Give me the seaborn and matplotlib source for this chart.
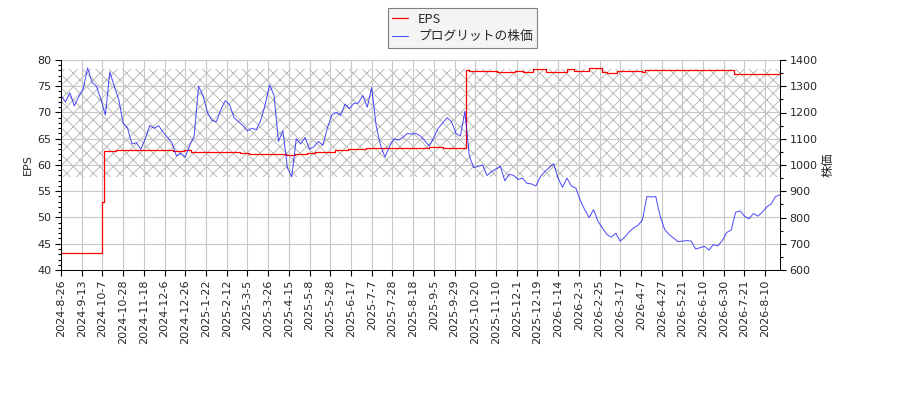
import numpy as np
import pandas as pd
import matplotlib
matplotlib.use("Agg")
import matplotlib.pyplot as plt
import seaborn as sns
from matplotlib.ticker import MultipleLocator

# x tick labels (one every 14 trading days)
tick_labels = [
    "2024-8-26", "2024-9-13", "2024-10-7", "2024-10-28", "2024-11-18", "2024-12-6",
    "2024-12-26", "2025-1-22", "2025-2-12", "2025-3-5", "2025-3-26", "2025-4-15",
    "2025-5-8", "2025-5-28", "2025-6-17", "2025-7-7", "2025-7-28", "2025-8-18",
    "2025-9-5", "2025-9-29", "2025-10-20", "2025-11-10", "2025-12-1", "2025-12-19",
    "2026-1-14", "2026-2-3", "2026-2-25", "2026-3-17", "2026-4-7", "2026-4-27",
    "2026-5-21", "2026-6-10", "2026-6-30", "2026-7-21", "2026-8-10",
]

# share price, read every 3rd trading day
price = [
    1265, 1240, 1275, 1225, 1260, 1290, 1370, 1315, 1300, 1250,
    1190, 1355, 1300, 1250, 1160, 1140, 1080, 1085, 1060, 1100,
    1150, 1140, 1150, 1125, 1105, 1085, 1035, 1045, 1030, 1075,
    1110, 1300, 1265, 1200, 1170, 1165, 1210, 1245, 1230, 1180,
    1165, 1150, 1130, 1140, 1135, 1170, 1230, 1305, 1265, 1090,
    1130, 990, 955, 1100, 1080, 1105, 1060, 1070, 1090, 1075,
    1140, 1190, 1200, 1190, 1232, 1215, 1235, 1236, 1265, 1220,
    1295, 1150, 1075, 1030, 1070, 1100, 1095, 1105, 1120, 1118,
    1120, 1110, 1092, 1072, 1105, 1140, 1160, 1180, 1165, 1120,
    1110, 1205, 1035, 990, 995, 1000, 960, 975, 985, 995,
    940, 965, 960, 945, 950, 930, 928, 920, 955, 975,
    990, 1005, 950, 915, 950, 920, 912, 865, 830, 800,
    830, 785, 760, 735, 725, 740, 710, 725, 745, 760,
    770, 790, 880, 878, 880, 805, 755, 735, 722, 708,
    710, 712, 710, 680, 685, 690, 676, 697, 692, 712,
    743, 752, 820, 825, 805, 795, 815, 805, 820, 840,
    852, 880, 886,
]

# EPS as a step series: trading-day index where a value starts, and the value
eps_start = [0, 28, 29, 37, 57, 72, 76, 83, 88, 97, 121, 127, 152, 158, 166,
             172, 185, 194, 206, 249, 258, 274, 276, 295, 307, 312, 319, 328,
             342, 347, 357, 366, 369, 376, 393, 395, 455]
eps_value = [43.2, 53.0, 62.7, 62.8, 62.85, 62.9, 62.75, 62.9, 62.5, 62.45,
             62.35, 62.05, 61.9, 62.0, 62.3, 62.55, 62.9, 63.1, 63.3, 63.4,
             63.3, 78.0, 77.85, 77.75, 77.95, 77.75, 78.3, 77.75, 78.2, 77.9,
             78.4, 77.7, 77.55, 77.9, 77.7, 78.0, 77.3]

step = 3
n_days = len(price) * step - 2
price_df = pd.DataFrame({"day": np.arange(0, len(price) * step, step), "price": price})
eps = np.empty(n_days)
for s, v in zip(eps_start, eps_value):
    eps[s:] = v
eps_df = pd.DataFrame({"day": np.arange(n_days), "eps": eps})

sns.set_style("white")
plt.rcParams["font.family"] = ["DejaVu Sans", "Noto Sans CJK JP"]
plt.rcParams["hatch.linewidth"] = 0.8

fig = plt.figure(figsize=(11.25, 5), dpi=80)
ax = fig.add_axes([61 / 900, 130 / 400, 719 / 900, 210 / 400])
ax2 = ax.twinx()

# hatched band behind the lines
ax.axhspan(57.8, 78.3, facecolor="none", edgecolor="#b4b4b4", hatch="xx", linewidth=0, zorder=0)

sns.lineplot(data=eps_df, x="day", y="eps", ax=ax, color="red", lw=1.1,
             drawstyle="steps-post", label="EPS", legend=False)
sns.lineplot(data=price_df, x="day", y="price", ax=ax2, color="blue", alpha=0.7, lw=0.9,
             label="プログリットの株価", legend=False)

ax.set_xlim(0, n_days - 1)
ax.set_ylim(40, 80)
ax2.set_ylim(600, 1400)
ax.set_xticks(range(0, 14 * len(tick_labels), 14))
ax.set_xticklabels(tick_labels, rotation=90, fontsize=10)
ax.yaxis.set_major_locator(MultipleLocator(5))
ax.yaxis.set_minor_locator(MultipleLocator(1))
ax2.yaxis.set_major_locator(MultipleLocator(100))
ax2.yaxis.set_minor_locator(MultipleLocator(50))
ax.grid(True, color="#c8c8c8", lw=1)
ax.set_xlabel("")
ax.set_ylabel("EPS", fontsize=10)
ax2.set_ylabel("株価", fontsize=11)

for a in (ax, ax2):
    a.tick_params(axis="both", which="major", direction="out", length=5, width=1,
                  color="black", labelsize=10)
    a.tick_params(axis="y", which="minor", direction="out", length=3, width=1, color="black")
    for side in ("left", "right", "bottom"):
        a.spines[side].set_color("black")
    a.spines["top"].set_visible(False)
ax.tick_params(axis="y", which="both", left=True)
ax2.tick_params(axis="y", which="both", right=True)
ax.tick_params(axis="x", bottom=True)

h1, l1 = ax.get_legend_handles_labels()
h2, l2 = ax2.get_legend_handles_labels()
fig.legend(h1 + h2, l1 + l2, loc="upper center", bbox_to_anchor=(0.514, 0.995),
           fancybox=False, edgecolor="#808080", facecolor="#f4f4f4", framealpha=1,
           prop={"family": ["Noto Sans CJK JP"], "size": 11.5},
           handlelength=1.2, labelspacing=0.35, borderpad=0.35)

fig.savefig("out.png", dpi=80)
